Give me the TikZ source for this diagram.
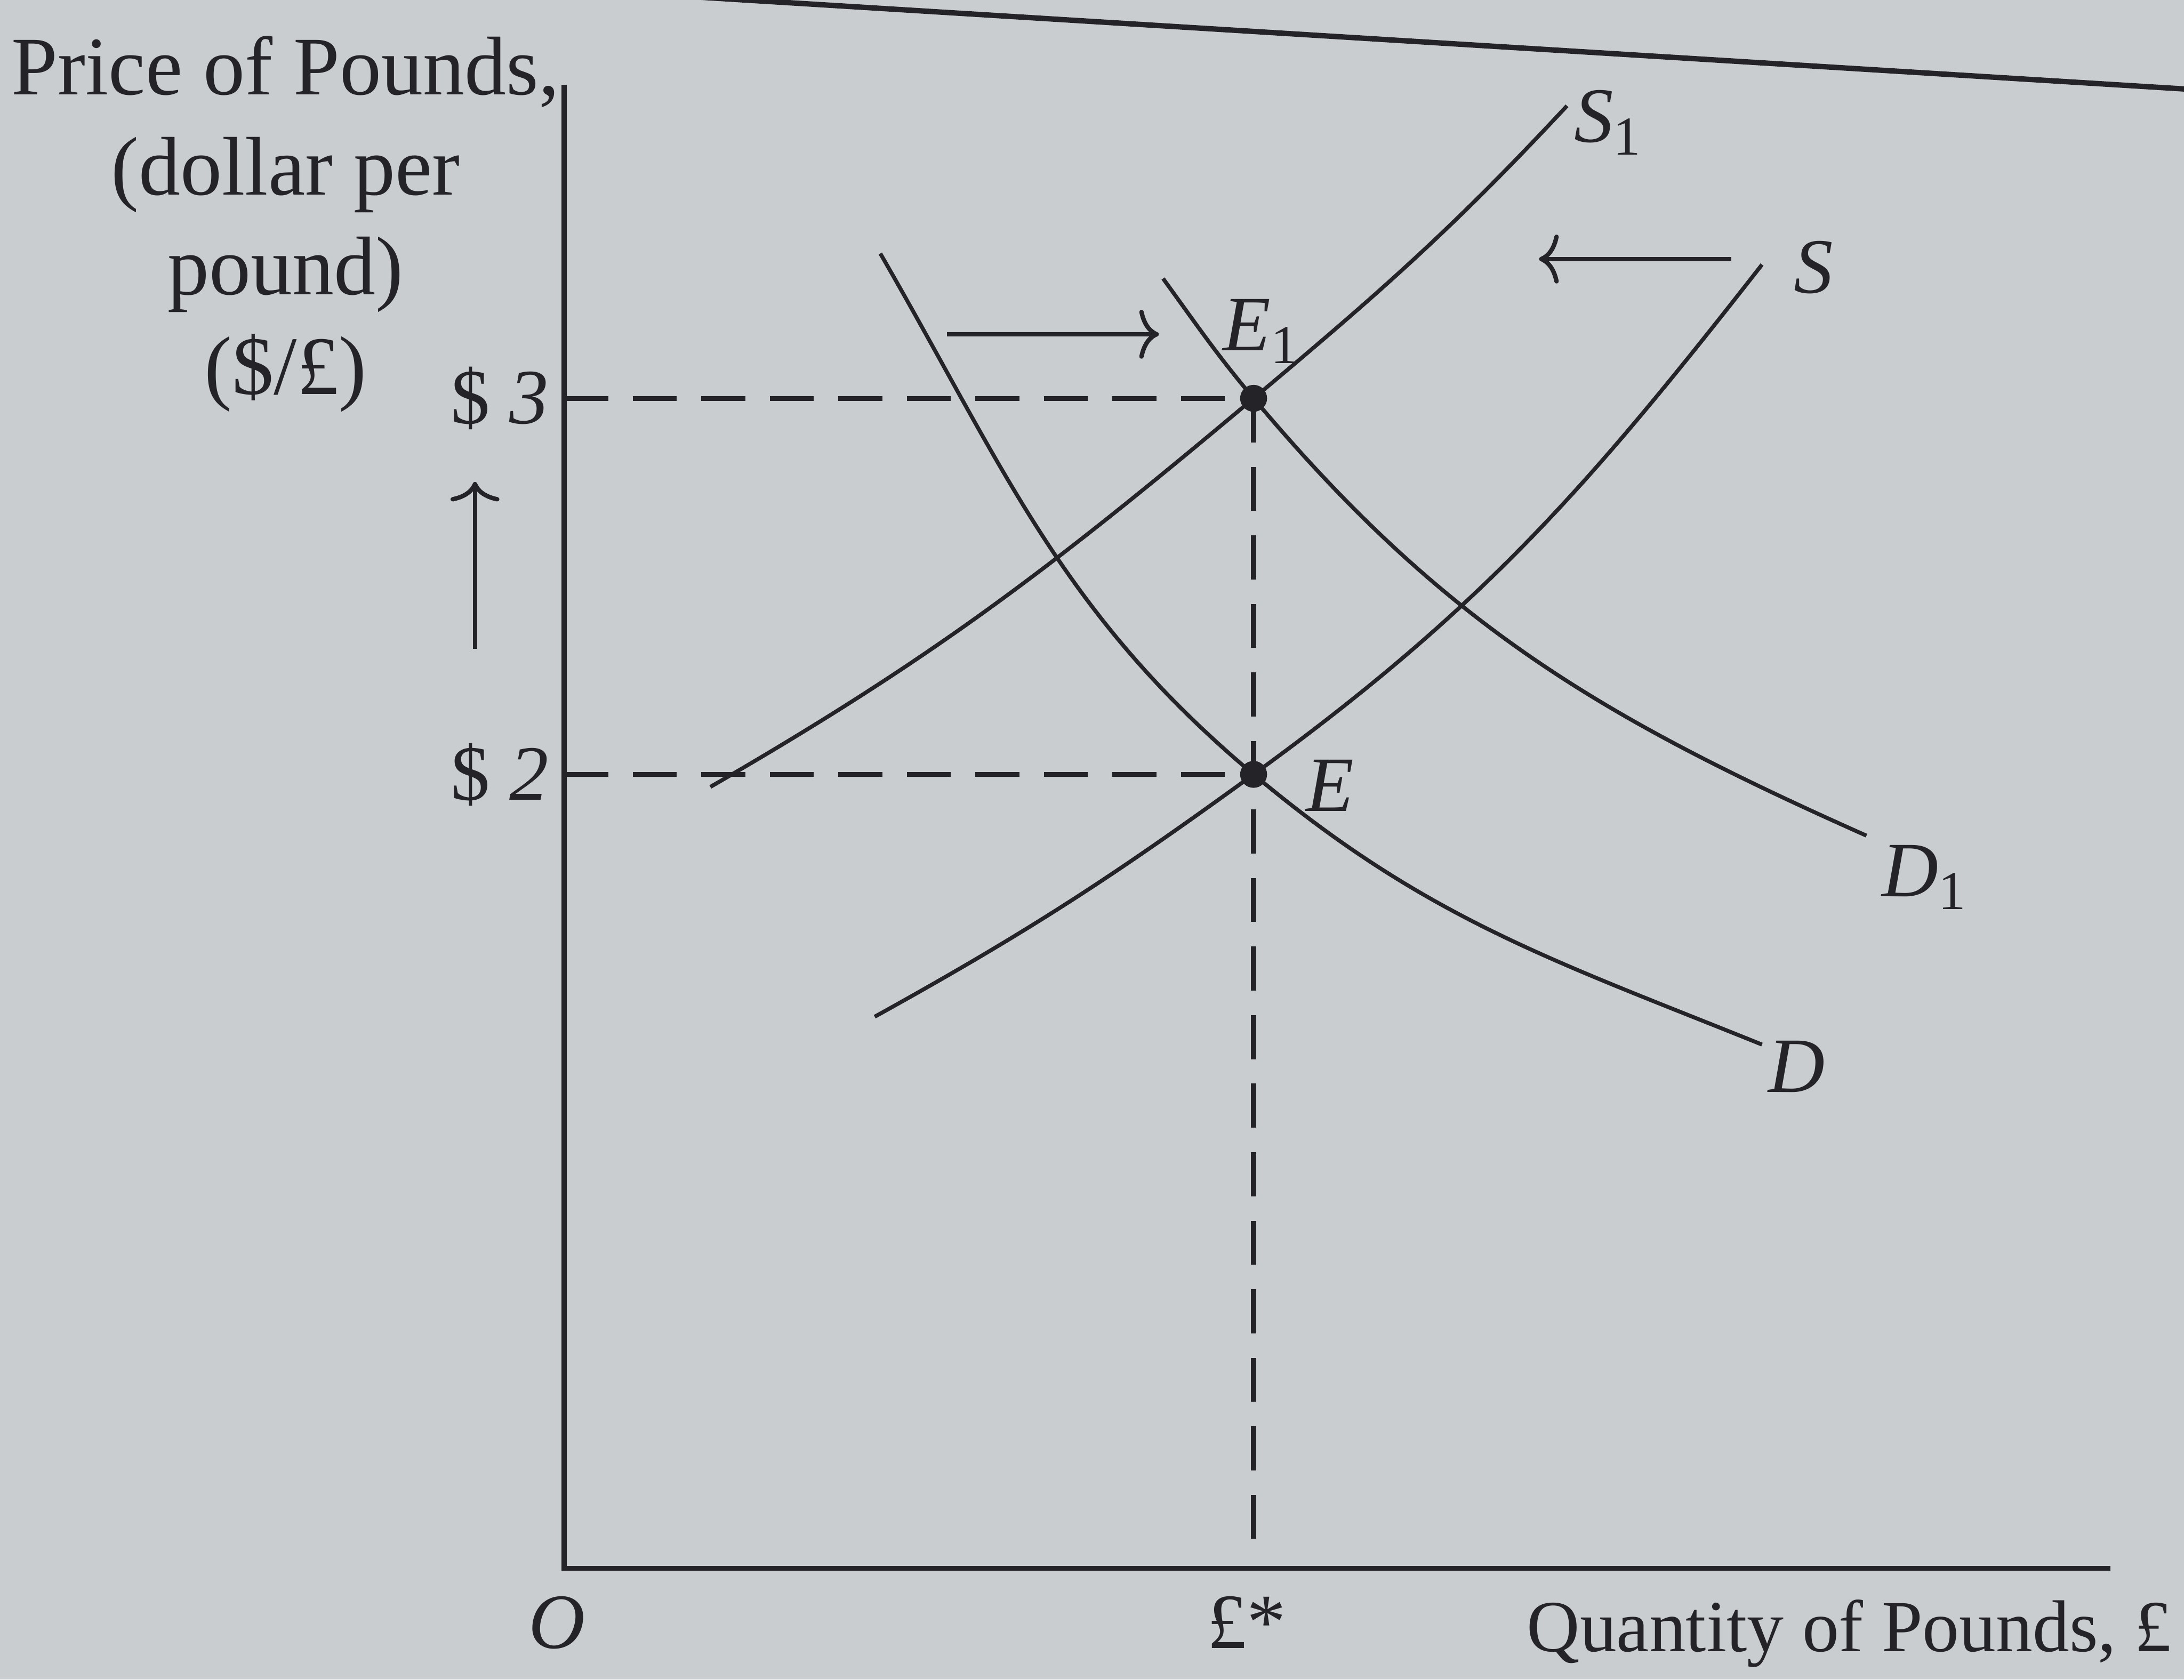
\documentclass[tikz,border=0pt]{standalone}
\usepackage{fontspec}
\setmainfont{Liberation Serif}
\usetikzlibrary{arrows.meta}

\definecolor{paper}{RGB}{202,205,208}
\definecolor{ink}{RGB}{36,36,40}

\begin{document}
\begin{tikzpicture}[
        >={To[length=4pt,width=10pt]},
        axis/.style={ink, line width=1pt},
        curve/.style={ink, line width=0.8pt},
        guide/.style={ink, line width=1pt, dash pattern=on 9pt off 5pt},
        dot/.style={circle, fill=ink, inner sep=0pt, minimum size=5.5pt},
        lbl/.style={text=ink, inner sep=1pt, font=\fontsize{16}{20}\selectfont},
        shiftarrow/.style={ink, line width=0.9pt, ->}
    ]

    % page and frame
    \fill[paper] (0,0) rectangle (15.68,12.06);
    \useasboundingbox (0,0) rectangle (15.68,12.06);
    \draw[ink, line width=1.1pt] (4.7,12.1) -- (15.7,11.42);

    % 1. Axes
    \coordinate (O) at (4.05,0.8);
    \coordinate (ytop) at (4.05,11.45);
    \coordinate (xend) at (15.15,0.8);
    \draw[axis] (ytop) -- (O) -- (xend);

    % 2. Equilibrium points
    \node[dot] (E1) at (9.0,9.2) {};
    \node[dot] (E) at (9.0,6.5) {};

    % 3. Dashed guides
    \draw[guide] (E1 -| O) -- (E1.center);
    \draw[guide] (E -| O) -- (E.center);
    \draw[guide] (E1.center) -- ([yshift=0.2cm]E1 |- O);

    % 4. Supply curves
    \coordinate (Sstart) at (6.28,4.76);
    \coordinate (Send) at (12.65,10.16);
    \draw[curve] (Sstart) to[out=29,in=216] (E.center) to[out=36,in=232] (Send);
    \coordinate (S1start) at (5.10,6.41);
    \coordinate (S1end) at (11.25,11.3);
    \draw[curve] (S1start) to[out=30,in=220] (E1.center) to[out=40,in=227] (S1end);

    % 5. Demand curves
    \coordinate (Dstart) at (6.32,10.24);
    \coordinate (Dend) at (12.65,4.56);
    \draw[curve] (Dstart) to[out=-60,in=140] (E.center) to[out=-40,in=158] (Dend);
    \coordinate (D1start) at (8.35,10.06);
    \coordinate (D1end) at (13.4,6.06);
    \draw[curve] (D1start) to[out=-54,in=130] (E1.center) to[out=-50,in=156] (D1end);

    % 6. Curve and point labels
    \node[lbl] (Slbl) at (13.02,10.14) {\textit{S}};
    \node[lbl] (S1lbl) at (11.55,11.18) {\textit{S}\textsubscript{1}};
    \node[lbl] (Dlbl) at (12.9,4.4) {\textit{D}};
    \node[lbl] (D1lbl) at (13.82,5.76) {\textit{D}\textsubscript{1}};
    \node[lbl] (E1lbl) at (9.06,9.68) {\textit{E}\textsubscript{1}};
    \node[lbl] (Elbl) at (9.55,6.42) {\textit{E}};

    % 7. Shift arrows
    \draw[shiftarrow] (6.8,9.66) -- (8.32,9.66);
    \draw[shiftarrow] (12.43,10.2) -- (11.05,10.2);
    \draw[shiftarrow] (3.41,7.4) -- (3.41,8.6);

    % 8. Axis labels
    \node[lbl, anchor=east] (p3) at (3.98,9.2) {\$ \textit{3}};
    \node[lbl, anchor=east] (p2) at (3.98,6.5) {\$ \textit{2}};
    \node[lbl, align=center, font=\fontsize{17}{20.4}\selectfont] (ylbl) at (2.05,10.45)
        {Price of Pounds,\\(dollar per\\pound)\\(\$/£)};
    \node[lbl] (Olbl) at (4.0,0.41) {\textit{O}};
    \node[lbl] (qstar) at (8.95,0.41) {£*};
    \node[lbl, anchor=west, font=\fontsize{15}{18}\selectfont] (xlbl) at (10.92,0.33) {Quantity of Pounds, £};

\end{tikzpicture}
\end{document}
